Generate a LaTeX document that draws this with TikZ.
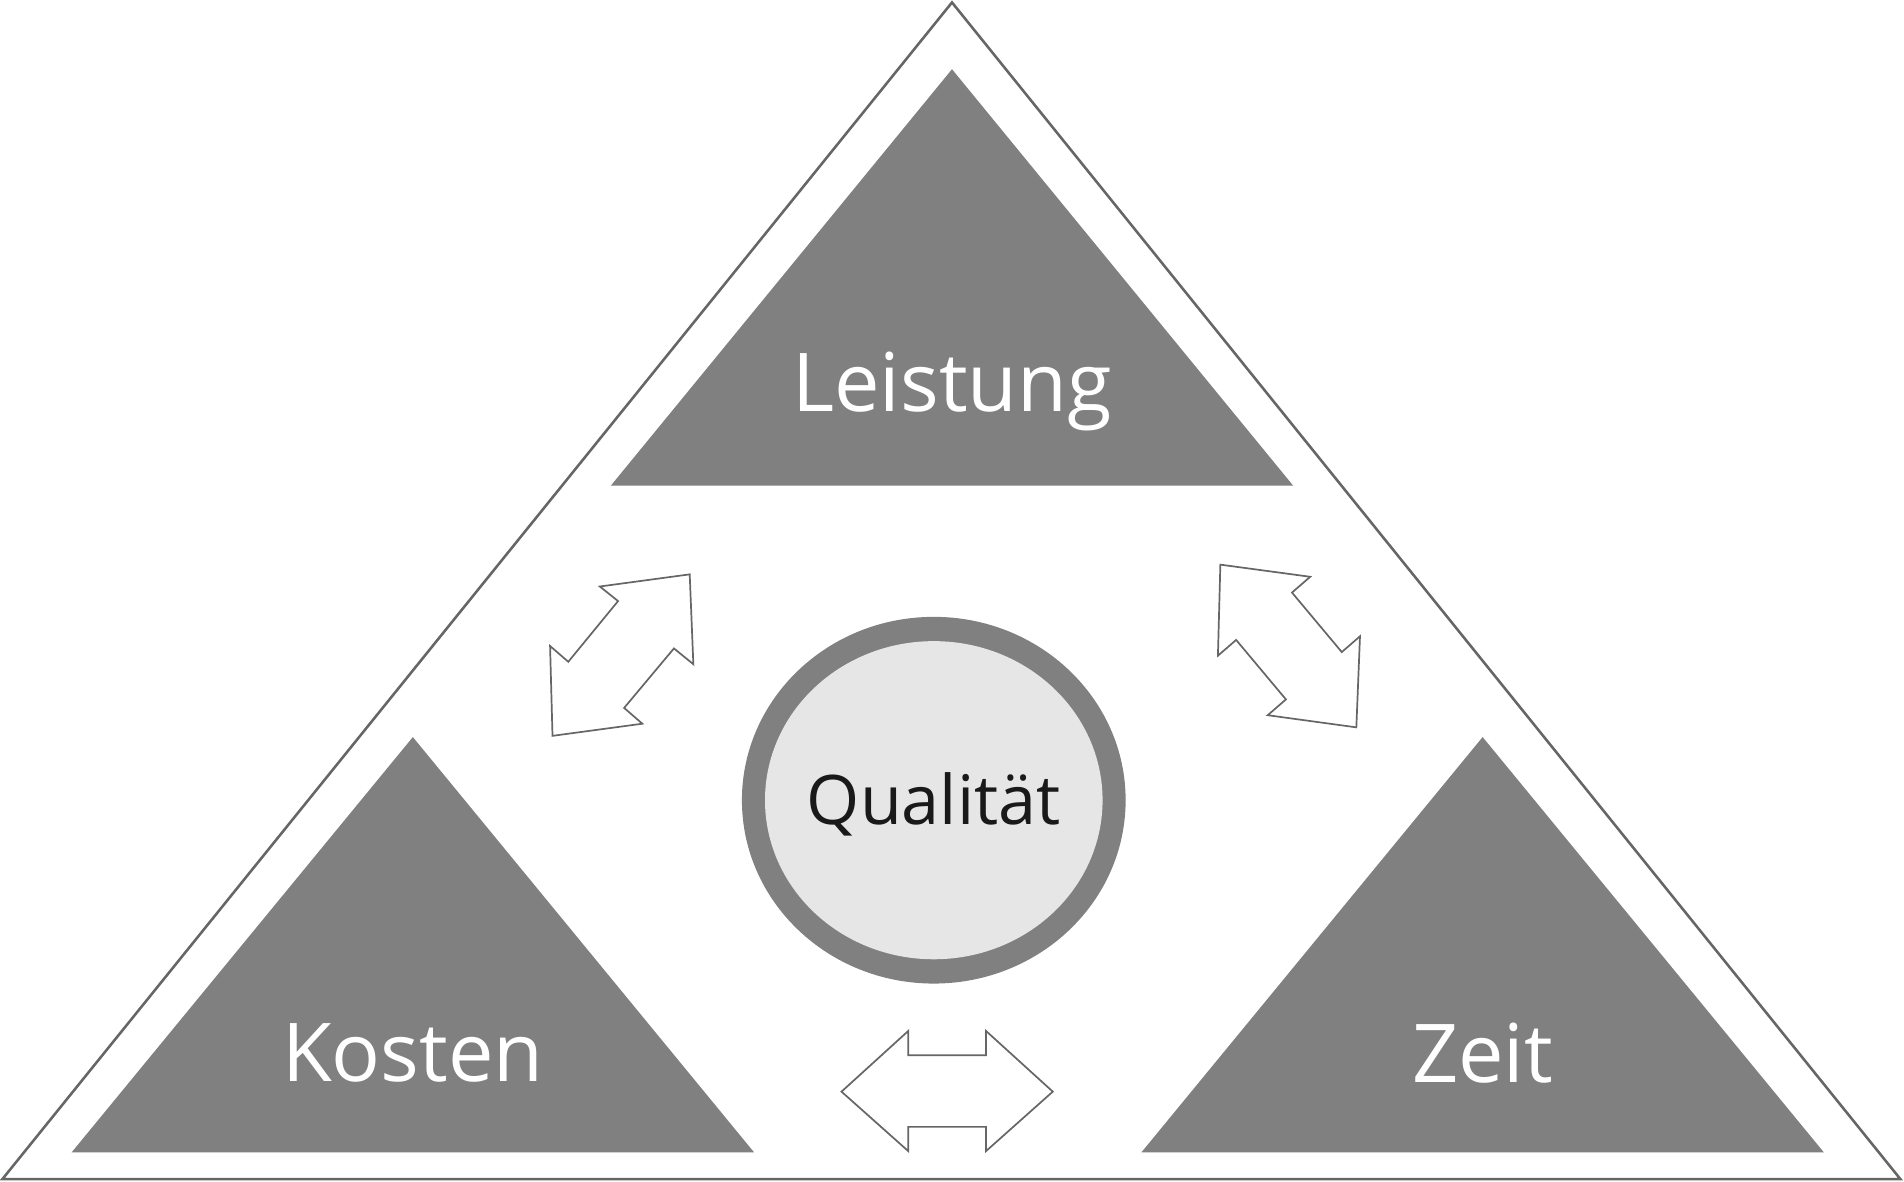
\documentclass[tikz,border=0pt]{standalone}
\usepackage{fontspec}
\setmainfont{Open Sans}
\definecolor{MyGray}{HTML}{808080}
\definecolor{MyLight}{HTML}{E6E6E6}
\tikzset{
  block/.style={fill=MyGray,draw=none},
  label/.style={text=white,font=\fontsize{19}{23}\selectfont},
  twoway/.style={draw=black!60,line width=0.4pt,fill=white}
}
\begin{document}
\begin{tikzpicture}[x=0.01cm,y=-0.01cm]
        \useasboundingbox (0,0) rectangle (1568,973);
        % outer frame
        \draw[black!60,line width=0.6pt] (784,2) -- (2,971) -- (1565,971) -- cycle;

        % corner triangles
        \fill[block] (784,57) -- (503,400) -- (1065,400) -- cycle;
        \fill[block] (340,607) -- (59,949) -- (621,949) -- cycle;
        \fill[block] (1221,607) -- (940,949) -- (1502,949) -- cycle;
        \node[label] (leistung) at (784,322) {Leistung};
        \node[label] (kosten) at (340,867) {Kosten};
        \node[label] (zeit) at (1221,867) {Zeit};

        % centre
        \fill[MyGray] (769,659) ellipse (158 and 151);
        \fill[MyLight] (769,659) ellipse (139 and 131);
        \node[font=\fontsize{16}{19}\selectfont,text=black!90] (qualitaet) at (769,662) {Qualität};

        % arrows
        \draw[twoway] (693,899) -- (748,849) -- (748,869) -- (812,869) -- (812,849) -- (867,899)
              -- (812,948) -- (812,928) -- (748,928) -- (748,948) -- cycle;
        \draw[twoway] (568,473) -- (571,547) -- (555,534) -- (514,583) -- (529,596) -- (455,606)
              -- (453,532) -- (468,545) -- (509,495) -- (494,483) -- cycle;
        \draw[twoway] (1005,465) -- (1079,475) -- (1064,488) -- (1105,537) -- (1120,524) -- (1117,599)
              -- (1044,589) -- (1059,576) -- (1018,527) -- (1003,540) -- cycle;
\end{tikzpicture}
\end{document}
